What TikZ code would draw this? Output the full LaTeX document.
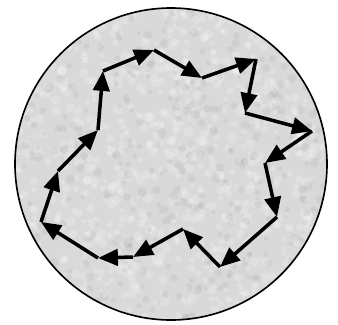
\documentclass[tikz,border=0pt]{standalone}
\usepackage{tikz}
\usetikzlibrary{arrows.meta}

\begin{document}
\begin{tikzpicture}[x=0.03cm,y=-0.03cm,
  walkstep/.style={-{Triangle[length=17pt,width=14pt]},line width=3pt}]
  \useasboundingbox (0,0) rectangle (338,324);
  % grainy disc
  \fill[gray!30] (171,164) circle (156);
  \begin{scope}
    \clip (171,164) circle (156);
    \pgfmathsetseed{11}
    \foreach \i in {1,...,900} {
      \pgfmathsetmacro{\px}{15+312*rnd}
      \pgfmathsetmacro{\py}{8+312*rnd}
      \pgfmathsetmacro{\pr}{2+3*rnd}
      \fill[white,opacity=0.2] (\px,\py) circle (\pr);
    }
    \foreach \i in {1,...,400} {
      \pgfmathsetmacro{\px}{15+312*rnd}
      \pgfmathsetmacro{\py}{8+312*rnd}
      \pgfmathsetmacro{\pr}{2+3*rnd}
      \fill[gray,opacity=0.1] (\px,\py) circle (\pr);
    }
  \end{scope}
  \draw[line width=1.4pt] (171,164) circle (156);
  % corners of the walk
  \coordinate (a) at (154,50);
  \coordinate (b) at (202,78);
  \coordinate (c) at (256,59);
  \coordinate (d) at (245,113);
  \coordinate (e) at (312,131);
  \coordinate (f) at (265,163);
  \coordinate (g) at (277,217);
  \coordinate (h) at (220,267);
  \coordinate (i) at (183,229);
  \coordinate (j) at (133,257);
  \coordinate (k) at (98,258);
  \coordinate (l) at (41,222);
  \coordinate (m) at (58,171);
  \coordinate (n) at (98,130);
  \coordinate (o) at (103,71);
  \draw[walkstep] (o) -- (a);
  \draw[walkstep] (a) -- (b);
  \draw[walkstep] (b) -- (c);
  \draw[walkstep] (c) -- (d);
  \draw[walkstep] (d) -- (e);
  \draw[walkstep] (e) -- (f);
  \draw[walkstep] (f) -- (g);
  \draw[walkstep] (g) -- (h);
  \draw[walkstep] (h) -- (i);
  \draw[walkstep] (i) -- (j);
  \draw[walkstep] (j) -- (k);
  \draw[walkstep] (k) -- (l);
  \draw[walkstep] (l) -- (m);
  \draw[walkstep] (m) -- (n);
  \draw[walkstep] (n) -- (o);
\end{tikzpicture}
\end{document}
